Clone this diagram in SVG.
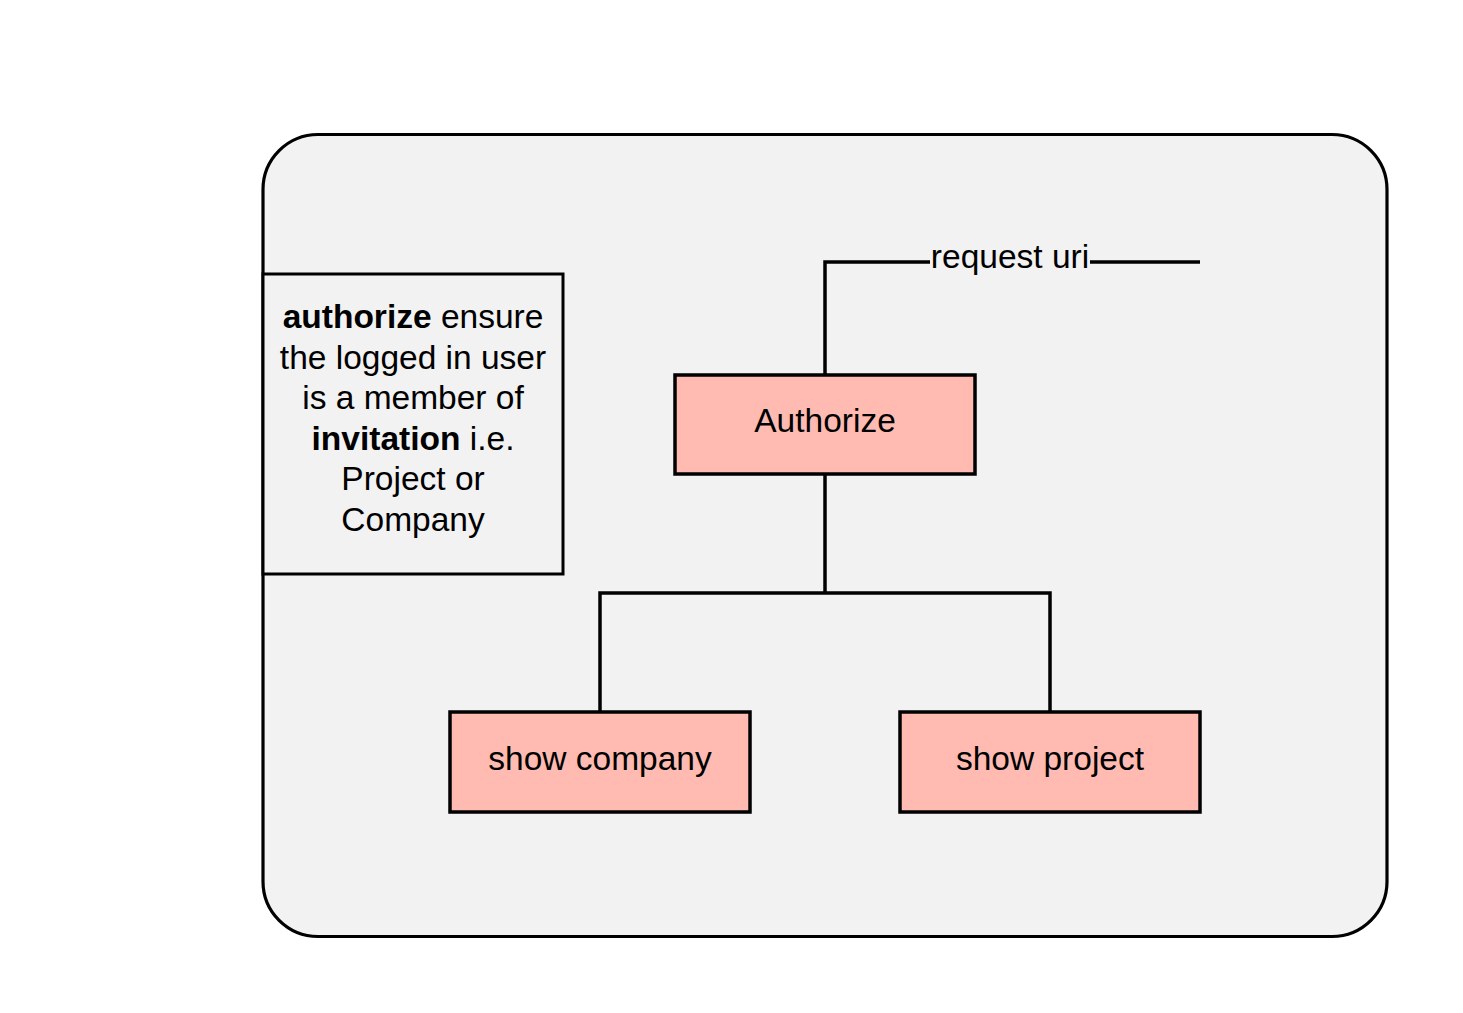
<svg xmlns="http://www.w3.org/2000/svg" width="1463" height="1013" viewBox="0 0 1463 1013">
<style>
.t{font-family:"Liberation Sans",Arial,sans-serif;font-size:33.5px;fill:#000;text-anchor:middle}
.b{font-weight:bold}
.box{fill:#ffbbb1;stroke:#000;stroke-width:3.5}
.ln{fill:none;stroke:#000;stroke-width:3.5}
</style>
<rect width="1463" height="1013" fill="#fff"/>
<g id="container">
<rect x="263" y="134.5" width="1124" height="802" rx="55" ry="55" fill="#f2f2f2" stroke="#000" stroke-width="3.2"/>
</g>
<g id="note">
<rect x="263" y="274" width="300" height="300" fill="#f2f2f2" stroke="#000" stroke-width="3"/>
<text class="t" x="413" y="328"><tspan class="b">authorize</tspan> ensure</text>
<text class="t" x="413" y="369">the logged in user</text>
<text class="t" x="413" y="409">is a member of</text>
<text class="t" x="413" y="450"><tspan class="b">invitation</tspan> i.e.</text>
<text class="t" x="413" y="490">Project or</text>
<text class="t" x="413" y="531">Company</text>
</g>
<g id="connectors">
<polyline class="ln" points="825,375 825,262 930,262"/>
<line class="ln" x1="1090" y1="262" x2="1200" y2="262"/>
<text class="t" x="1010" y="268">request uri</text>
<polyline class="ln" points="825,474 825,593"/>
<polyline class="ln" points="600,712 600,593 1050,593 1050,712"/>
</g>
<g id="authorize">
<rect class="box" x="675" y="375" width="300" height="99"/>
<text class="t" x="825" y="432">Authorize</text>
</g>
<g id="show-company">
<rect class="box" x="450" y="712" width="300" height="100"/>
<text class="t" x="600" y="770">show company</text>
</g>
<g id="show-project">
<rect class="box" x="900" y="712" width="300" height="100"/>
<text class="t" x="1050" y="770">show project</text>
</g>
</svg>
